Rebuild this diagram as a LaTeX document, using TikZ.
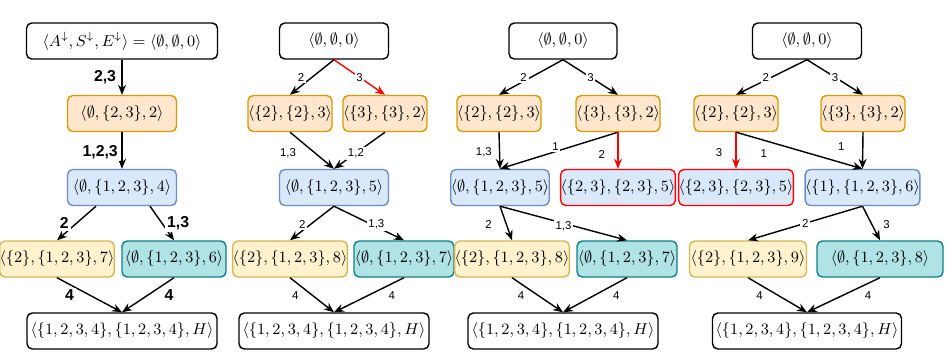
\documentclass[tikz,border=0pt]{standalone}
\usepackage{amsmath,amssymb}
\usepackage{fontspec}
\newfontfamily\lbfont{Liberation Sans}
\usepackage{tikz}
\usetikzlibrary{arrows.meta,calc}
\definecolor{orfill}{HTML}{FFE6CC}\definecolor{ordraw}{HTML}{D79B00}
\definecolor{blfill}{HTML}{DAE8FC}\definecolor{bldraw}{HTML}{6C8EBF}
\definecolor{yefill}{HTML}{FFF2CC}\definecolor{yedraw}{HTML}{D6B656}
\definecolor{cyfill}{HTML}{B0E3E6}\definecolor{cydraw}{HTML}{0E8088}
\tikzset{
  >={Stealth[length=2mm,width=1.6mm]},
  bx/.style={draw,rounded corners=3pt,minimum height=7.2mm,inner xsep=0pt,inner ysep=1pt,font=\fontsize{8.8}{10}\selectfont},
  wd/.style={minimum width=#1cm},
  tbox/.style={bx,fill=white},
  obox/.style={bx,fill=orfill,draw=ordraw},
  blbox/.style={bx,fill=blfill,draw=bldraw},
  ybox/.style={bx,fill=yefill,draw=yedraw},
  cbox/.style={bx,fill=cyfill,draw=cydraw},
  rbox/.style={bx,fill=blfill,draw=red},
  lb/.style={midway,fill=white,inner sep=1pt,font=\lbfont\fontsize{6.5}{7}\selectfont},
  lbb/.style={lb,font=\lbfont\bfseries\fontsize{9}{10}\selectfont},
  hl/.style={draw=red},
  every picture/.style={line width=0.8pt},
}
\begin{document}
\begin{tikzpicture}
\useasboundingbox (0,0) rectangle (18.94,-7.04);
\node[tbox,wd=3.82] (T1) at (2.44,-0.82) {$\langle A^{\downarrow},S^{\downarrow},E^{\downarrow}\rangle=\langle\emptyset,\emptyset,0\rangle$};
\node[obox,wd=2.18] (O1) at (2.44,-2.27) {$\langle\emptyset,\{2,3\},2\rangle$};
\node[blbox,wd=2.18] (B1) at (2.44,-3.75) {$\langle\emptyset,\{1,2,3\},4\rangle$};
\node[ybox,wd=2.24] (Y1) at (1.14,-5.18) {$\langle\{2\},\{1,2,3\},7\rangle$}; \node[cbox,wd=2.08] (C1) at (3.48,-5.18) {$\langle\emptyset,\{1,2,3\},6\rangle$};
\node[tbox,wd=3.80] (E1) at (2.44,-6.62) {$\langle\{1,2,3,4\},\{1,2,3,4\},H\rangle$};
\draw[->] (T1)--(O1) node[lbb,left=2pt]{2,3}; \draw[->] (O1)--(B1) node[lbb,pos=0.56,left=1pt]{1,2,3};
\draw[->] ([xshift=-0.52cm]B1.south)--(Y1.north) node[lbb,left=3pt]{2}; \draw[->] ([xshift=0.56cm]B1.south)--(C1.north) node[lbb,right=1.5pt]{1,3};
\draw[->] (Y1.south)--(E1.north) node[lbb,left=7.5pt]{4}; \draw[->] (C1.south)--(E1.north) node[lbb,right=8pt]{4};
\begin{scope}[xshift=6.68cm]
\node[tbox,wd=2.18] (T2) at (0,-0.82) {$\langle\emptyset,\emptyset,0\rangle$};
\node[obox,wd=1.64] (OL2) at (-0.88,-2.27) {$\langle\{2\},\{2\},3\rangle$}; \node[obox,wd=1.62] (OR2) at (1.02,-2.27) {$\langle\{3\},\{3\},2\rangle$};
\node[blbox,wd=2.18] (B2) at (0,-3.75) {$\langle\emptyset,\{1,2,3\},5\rangle$};
\node[ybox,wd=2.18] (Y2) at (-0.88,-5.18) {$\langle\{2\},\{1,2,3\},8\rangle$}; \node[cbox,wd=2.00] (C2) at (1.40,-5.18) {$\langle\emptyset,\{1,2,3\},7\rangle$};
\node[tbox,wd=3.80] (E2) at (0,-6.62) {$\langle\{1,2,3,4\},\{1,2,3,4\},H\rangle$};
\draw[->] (T2.south)--(OL2.north) node[lb,left=3pt]{2}; \draw[->,hl] (T2.south)--(OR2.north) node[lb]{3};
\draw[->] (OL2.south)--(B2.north) node[lb,pos=0.57,left=9.5pt]{1,3}; \draw[->] (OR2.south)--(B2.north) node[lb,pos=0.57]{1,2};
\draw[->] (B2.south)--(Y2.north) node[lb,pos=0.53,left=1.5pt]{2}; \draw[->] (B2.south)--(C2.north) node[lb,pos=0.53,xshift=3pt]{1,3};
\draw[->] (Y2.south)--(E2.north) node[lb,pos=0.53,left=7pt]{4}; \draw[->] (C2.south)--(E2.north) node[lb,pos=0.53,right=11pt]{4};
\end{scope}
\begin{scope}[xshift=11.26cm]
\node[tbox,wd=2.16] (T3) at (0,-0.82) {$\langle\emptyset,\emptyset,0\rangle$};
\node[obox,wd=1.64] (OL3) at (-1.28,-2.27) {$\langle\{2\},\{2\},3\rangle$}; \node[obox,wd=1.62] (OR3) at (1.10,-2.27) {$\langle\{3\},\{3\},2\rangle$};
\node[blbox,wd=1.84] (B3) at (-1.26,-3.75) {$\langle\emptyset,\{1,2,3\},5\rangle$}; \node[rbox,wd=2.18] (RD3) at (1.10,-3.75) {$\langle\{2,3\},\{2,3\},5\rangle$};
\node[ybox,wd=2.18] (Y3) at (-1.02,-5.18) {$\langle\{2\},\{1,2,3\},8\rangle$}; \node[cbox,wd=2.00] (C3) at (1.28,-5.18) {$\langle\emptyset,\{1,2,3\},7\rangle$};
\node[tbox,wd=3.80] (E3) at (0,-6.62) {$\langle\{1,2,3,4\},\{1,2,3,4\},H\rangle$};
\draw[->] (T3.south)--(OL3.north) node[lb,left=1pt]{2}; \draw[->] (T3.south)--(OR3.north) node[lb]{3};
\draw[->] (OL3.south)--(B3.north) node[lb,pos=0.55,left=3pt]{1,3}; \draw[->] (OR3.south)--(B3.north) node[lb,pos=0.53,yshift=3pt]{1};
\draw[->,hl] (OR3.south)--(RD3.north) node[lb,pos=0.6,left=6pt]{2};
\draw[->] (B3.south)--(Y3.north) node[lb,pos=0.53,left=7pt]{2}; \draw[->] (B3.south)--(C3.north) node[lb,yshift=-1.5pt]{1,3};
\draw[->] (Y3.south)--(E3.north) node[lb,pos=0.53,left=7pt]{4}; \draw[->] (C3.south)--(E3.north) node[lb,pos=0.53,right=10pt]{4};
\end{scope}
\begin{scope}[xshift=16.14cm]
\node[tbox,wd=2.18] (T4) at (0,-0.82) {$\langle\emptyset,\emptyset,0\rangle$};
\node[obox,wd=1.68] (OL4) at (-1.42,-2.27) {$\langle\{2\},\{2\},3\rangle$}; \node[obox,wd=1.60] (OR4) at (1.12,-2.27) {$\langle\{3\},\{3\},2\rangle$};
\node[rbox,wd=2.18] (RD4) at (-1.42,-3.75) {$\langle\{2,3\},\{2,3\},5\rangle$}; \node[blbox,wd=2.18] (B4) at (1.11,-3.75) {$\langle\{1\},\{1,2,3\},6\rangle$};
\node[ybox,wd=2.34] (Y4) at (-1.18,-5.18) {$\langle\{2\},\{1,2,3\},9\rangle$}; \node[cbox,wd=2.52] (C4) at (1.46,-5.18) {$\langle\emptyset,\{1,2,3\},8\rangle$};
\node[tbox,wd=3.78] (E4) at (0,-6.62) {$\langle\{1,2,3,4\},\{1,2,3,4\},H\rangle$};
\draw[->] (T4.south)--(OL4.north) node[lb,left=0pt]{2}; \draw[->] (T4.south)--(OR4.north) node[lb]{3};
\draw[->,hl] (OL4.south)--(RD4.north) node[lb,pos=0.55,left=6.5pt]{3}; \draw[->] (OL4.south)--(B4.north) node[lb,pos=0.22,below=4pt]{1};
\draw[->] (OR4.south)--(B4.north) node[lb,pos=0.38,left=9pt]{1};
\draw[->] (B4.south)--(Y4.north) node[lb]{2}; \draw[->] (B4.south)--(C4.north) node[lb,pos=0.55,right=5pt]{3};
\draw[->] (Y4.south)--(E4.north) node[lb,pos=0.53,left=8pt]{4}; \draw[->] (C4.south)--(E4.north) node[lb,pos=0.53,right=12pt]{4};
\end{scope}
\end{tikzpicture}
\end{document}
